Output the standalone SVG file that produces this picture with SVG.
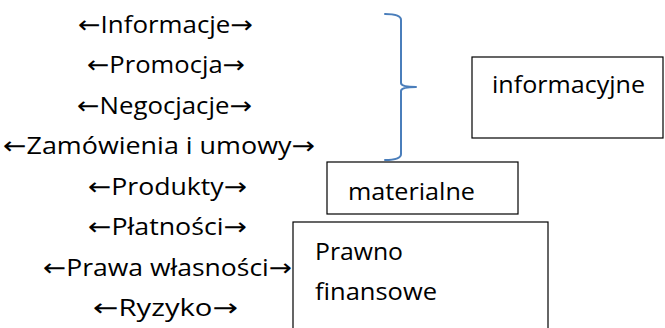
<svg xmlns="http://www.w3.org/2000/svg" width="665" height="328" viewBox="0 0 665 328">
<style>
.t{font-family:"Open Sans","Liberation Sans","DejaVu Sans",sans-serif;font-size:23px;fill:#000}
.a{font-family:"DejaVu Sans",sans-serif;font-size:24px}
.box{fill:#fff;stroke:#000;stroke-width:1.2}
.brace{fill:none;stroke:#4a7ebb;stroke-width:2;stroke-linecap:round;stroke-linejoin:round}
</style>
<rect width="665" height="328" fill="#fff"/>
<g id="flows">
<text class="t" x="78" y="33" textLength="175" lengthAdjust="spacingAndGlyphs"><tspan class="a">←</tspan>Informacje<tspan class="a">→</tspan></text>
<text class="t" x="87" y="73" textLength="158" lengthAdjust="spacingAndGlyphs"><tspan class="a">←</tspan>Promocja<tspan class="a">→</tspan></text>
<text class="t" x="77" y="114" textLength="175" lengthAdjust="spacingAndGlyphs"><tspan class="a">←</tspan>Negocjacje<tspan class="a">→</tspan></text>
<text class="t" x="3" y="154" textLength="312" lengthAdjust="spacingAndGlyphs"><tspan class="a">←</tspan>Zamówienia i umowy<tspan class="a">→</tspan></text>
<text class="t" x="88" y="195" textLength="159" lengthAdjust="spacingAndGlyphs"><tspan class="a">←</tspan>Produkty<tspan class="a">→</tspan></text>
<text class="t" x="88" y="235" textLength="159" lengthAdjust="spacingAndGlyphs"><tspan class="a">←</tspan>Płatności<tspan class="a">→</tspan></text>
<text class="t" x="43" y="276" textLength="249" lengthAdjust="spacingAndGlyphs"><tspan class="a">←</tspan>Prawa własności<tspan class="a">→</tspan></text>
<text class="t" x="93" y="316" textLength="145" lengthAdjust="spacingAndGlyphs"><tspan class="a">←</tspan>Ryzyko<tspan class="a">→</tspan></text>
</g>
<g id="connectors">
<path class="brace" d="M385,14 Q401,14 401,20 L401,83 Q401,87 416,87 Q401,87 401,91 L401,154 Q401,160 385,160"/>
</g>
<g id="informacyjne">
<rect class="box" x="472" y="57" width="191" height="81"/>
<text class="t" x="492" y="93" textLength="153" lengthAdjust="spacingAndGlyphs">informacyjne</text>
</g>
<g id="materialne">
<rect class="box" x="327" y="162" width="191" height="52"/>
<text class="t" x="348" y="200" textLength="127" lengthAdjust="spacingAndGlyphs">materialne</text>
</g>
<g id="prawno-finansowe">
<rect class="box" x="293" y="222" width="255" height="120"/>
<text class="t" x="315" y="260" textLength="88" lengthAdjust="spacingAndGlyphs">Prawno</text>
<text class="t" x="315" y="300" textLength="122" lengthAdjust="spacingAndGlyphs">finansowe</text>
</g>
</svg>
